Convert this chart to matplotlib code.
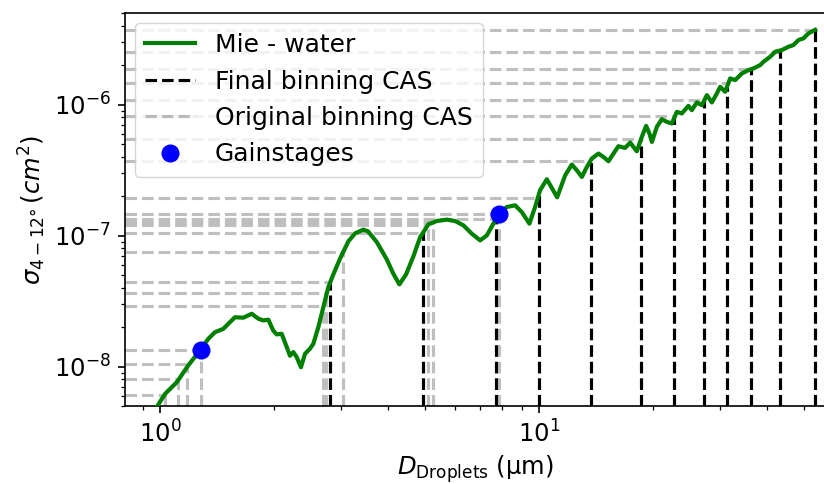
import numpy as np
import matplotlib
matplotlib.use("Agg")
import matplotlib.pyplot as plt

# Mie scattering cross section for water droplets, 4-12 deg forward
d_mie = [0.977, 1.028, 1.104, 1.184, 1.272, 1.338, 1.393, 1.465, 1.511, 1.573,
         1.655, 1.742, 1.813, 1.869, 1.927, 1.986, 2.028, 2.090, 2.155, 2.198,
         2.243, 2.290, 2.350, 2.408, 2.483, 2.533, 2.612, 2.679, 2.776, 2.861,
         2.980, 3.135, 3.265, 3.434, 3.533, 3.727, 3.960, 4.122, 4.275, 4.453,
         4.655, 4.849, 5.100, 5.367, 5.704, 6.000, 6.310, 6.640, 6.986, 7.277,
         7.573, 7.840, 8.215, 8.642, 9.002, 9.428, 9.759, 10.06, 10.48, 10.82,
         11.16, 11.72, 12.20, 12.58, 12.97, 13.37, 13.78, 14.35, 14.79, 15.25,
         15.72, 16.20, 16.87, 17.40, 17.75, 18.12, 18.68, 19.17, 19.56, 19.86,
         20.46, 21.10, 21.75, 22.42, 23.11, 23.82, 24.80, 25.32, 26.10, 26.91,
         27.74, 28.60, 29.48, 30.08, 31.00, 31.96, 32.95, 34.32, 35.73, 36.83,
         38.36, 39.14, 40.76, 42.02, 43.77, 45.56, 46.97, 48.42, 49.92, 51.46,
         53.60]
sigma_mie = [4.89e-9, 6.18e-9, 7.59e-9, 1.02e-8, 1.33e-8, 1.63e-8, 1.83e-8, 1.94e-8, 2.12e-8, 2.38e-8,
             2.36e-8, 2.53e-8, 2.32e-8, 2.25e-8, 2.28e-8, 1.88e-8, 1.76e-8, 1.78e-8, 1.41e-8, 1.21e-8,
             1.29e-8, 1.18e-8, 9.88e-9, 1.25e-8, 1.37e-8, 1.49e-8, 2.00e-8, 2.68e-8, 4.04e-8, 5.05e-8,
             6.66e-8, 9.03e-8, 1.039e-7, 1.110e-7, 1.077e-7, 8.92e-8, 6.58e-8, 5.11e-8, 4.24e-8, 5.05e-8,
             6.93e-8, 9.69e-8, 1.218e-7, 1.291e-7, 1.323e-7, 1.291e-7, 1.197e-7, 1.034e-7, 9.19e-8, 1.003e-7,
             1.233e-7, 1.471e-7, 1.652e-7, 1.702e-7, 1.512e-7, 1.233e-7, 1.652e-7, 2.216e-7, 2.690e-7, 2.295e-7,
             1.959e-7, 2.886e-7, 3.483e-7, 3.151e-7, 2.801e-7, 3.339e-7, 3.871e-7, 4.227e-7, 3.982e-7, 3.692e-7,
             4.227e-7, 4.808e-7, 4.667e-7, 5.132e-7, 4.749e-7, 4.402e-7, 5.664e-7, 6.874e-7, 6.013e-7, 5.187e-7,
             6.753e-7, 7.734e-7, 7.375e-7, 7.171e-7, 8.797e-7, 8.551e-7, 9.775e-7, 9.063e-7, 1.038e-6, 9.894e-7,
             1.180e-6, 1.038e-6, 1.216e-6, 1.366e-6, 1.251e-6, 1.583e-6, 1.537e-6, 1.729e-6, 1.832e-6, 1.888e-6,
             2.001e-6, 2.121e-6, 2.316e-6, 2.529e-6, 2.606e-6, 2.762e-6, 2.846e-6, 3.108e-6, 3.202e-6, 3.497e-6,
             3.720e-6]

# CAS bin edges (um) and their cross section thresholds (cm^2)
d_orig = [1.028, 1.112, 1.175, 1.279, 2.683, 2.737, 2.804, 3.041, 4.947, 5.076,
          5.258, 7.685, 7.855, 10.0, 13.70, 18.57, 22.73, 27.34, 31.32, 36.32,
          43.31, 53.61]
sigma_orig = [6.11e-9, 8.1e-9, 1.054e-8, 1.349e-8, 2.88e-8, 3.66e-8, 4.42e-8, 7.48e-8, 1.052e-7, 1.197e-7,
              1.268e-7, 1.33e-7, 1.47e-7, 1.94e-7, 3.72e-7, 5.43e-7, 8.2e-7, 1.087e-6, 1.45e-6, 1.87e-6,
              2.50e-6, 3.72e-6]
d_final = [2.804, 4.947, 7.685, 10.0, 13.70, 18.57, 22.73, 27.34, 31.32, 36.32, 43.31, 53.61]

# gain stage boundaries
d_gain = [1.279, 7.855]
sigma_gain = [1.349e-8, 1.47e-7]

plt.rcParams['font.size'] = 17

fig, ax = plt.subplots(figsize=(8.24, 4.84), dpi=100)
fig.subplots_adjust(left=125/824, right=825/824, bottom=78/484, top=471/484)
ax.set_xscale('log')
ax.set_yscale('log')
ax.set_xlim(0.806, 56.9)
ax.set_ylim(5e-9, 5e-6)
x0 = ax.get_xlim()[0]
y0 = ax.get_ylim()[0]

log_d = np.log10(d_mie)
log_s = np.log10(sigma_mie)


def on_curve(d):
    return 10 ** np.interp(np.log10(d), log_d, log_s)


lw = 2.25
for d, s in zip(d_orig, sigma_orig):
    h_orig, = ax.plot([x0, d], [s, s], '--', color='gray', alpha=0.5, lw=lw, zorder=1)
    ax.plot([d, d], [y0, on_curve(d)], '--', color='gray', alpha=0.5, lw=lw, zorder=1)

for d in d_final:
    h_final, = ax.plot([d, d], [y0, on_curve(d)], '--', color='k', lw=lw, zorder=2)

h_mie, = ax.plot(d_mie, sigma_mie, color='green', lw=3, zorder=3)
h_gain, = ax.plot(d_gain, sigma_gain, 'o', color='blue', ms=12, zorder=4)

ax.legend([h_mie, h_final, h_orig, h_gain],
          ['Mie - water', 'Final binning CAS', 'Original binning CAS', 'Gainstages'],
          loc='upper left', fontsize=18, borderaxespad=0.4)

ax.set_xlabel(r'$D_{\rm Droplets}$ (μm)', fontsize=17.5)
ax.set_ylabel(r'$\sigma_{4-12°}\,(cm^2)$', fontsize=17.5)

for s in ax.spines.values():
    s.set_linewidth(1.2)
ax.tick_params(which='major', length=5.25, width=1.2, pad=5, labelsize=17.5)
ax.tick_params(which='minor', length=3, width=0.9)

fig.savefig('out.png', dpi=100)
